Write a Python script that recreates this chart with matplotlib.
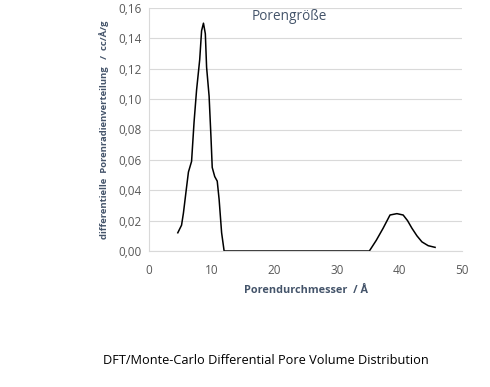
import matplotlib
matplotlib.use("Agg")
import matplotlib.pyplot as plt
from matplotlib.ticker import FuncFormatter

x = [4.6, 5.2, 5.5, 6.0, 6.3, 6.8, 7.2, 7.6, 8.1, 8.4, 8.7, 9.0, 9.2, 9.6, 9.9, 10.1,
     10.5, 10.9, 11.2, 11.6, 12.0, 35.2, 36.3, 37.4, 38.5, 39.6, 40.6, 41.3, 42.0,
     42.8, 43.6, 44.6, 45.7]
y = [0.012, 0.017, 0.025, 0.042, 0.052, 0.059, 0.085, 0.106, 0.126, 0.145, 0.150,
     0.143, 0.121, 0.102, 0.075, 0.055, 0.049, 0.046, 0.034, 0.012, 0.0, 0.0, 0.007,
     0.015, 0.0237, 0.0246, 0.0237, 0.020, 0.015, 0.010, 0.006, 0.0035, 0.0024]

xticks = [0, 10, 20, 30, 40, 50]
yticks = [0.00, 0.02, 0.04, 0.06, 0.08, 0.10, 0.12, 0.14, 0.16]

plt.rcParams['font.family'] = ['Open Sans', 'DejaVu Sans']

fig = plt.figure(figsize=(4.9, 3.87), dpi=100)
ax = fig.add_axes([149/490, 1-251/387, (462-149)/490, (251-8)/387])
ax.plot(x, y, color='black', lw=1.1)
ax.set_xlim(0, 50)
ax.set_ylim(0, 0.16)
ax.set_xticks(xticks)
ax.set_yticks(yticks)
ax.yaxis.set_major_formatter(FuncFormatter(lambda v, p: f"{v:.2f}".replace('.', ',')))
ax.grid(axis='y', color='#D9D9D9', lw=0.8)
ax.set_axisbelow(True)
for s in ['top', 'right']:
    ax.spines[s].set_visible(False)
for s in ['left', 'bottom']:
    ax.spines[s].set_color('#D9D9D9')
ax.tick_params(length=0, labelsize=8.5, colors='#595959', pad=5)
ax.tick_params(axis='x', pad=9)
ax.set_xlabel('Porendurchmesser  / Å', fontsize=7.8, fontweight='bold', color='#44546A', labelpad=6)
ax.set_ylabel('differentielle  Porenradienverteilung   /  cc/Å/g', fontsize=6.8, fontweight='bold',
              color='#44546A', labelpad=7)
ax.text(252/490, 1-17/387, 'Porengröße', transform=fig.transFigure, fontsize=9.8,
        color='#44546A', va='center', ha='left')
fig.text(266/490, 1-361/387, 'DFT/Monte-Carlo Differential Pore Volume Distribution',
         fontsize=9.2, color='black', ha='center', va='center')
fig.savefig('out.png', dpi=100)
